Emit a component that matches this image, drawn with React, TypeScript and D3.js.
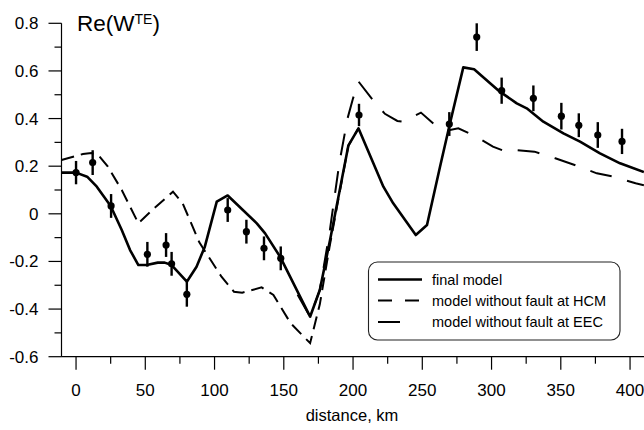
import React from 'react';
import * as d3 from 'd3';

// final model
const finalDist = [-10.5, 0, 8, 15, 25, 33, 39, 45, 51, 59, 64, 69, 80, 87, 93, 101.6, 109.5, 130.5, 136.5, 147.3, 169, 176, 183.4, 196.6, 203.9, 221.9, 229, 245.3, 253.4, 262.8, 270, 279.6, 287.4, 306, 318.2, 325.4, 337.4, 351.9, 363.9, 378.3, 392.8, 410];
const finalVal = [0.173, 0.173, 0.156, 0.114, 0.033, -0.068, -0.152, -0.215, -0.215, -0.205, -0.205, -0.215, -0.285, -0.222, -0.138, 0.051, 0.077, -0.04, -0.082, -0.18, -0.432, -0.32, -0.11, 0.286, 0.359, 0.114, 0.044, -0.089, -0.047, 0.198, 0.38, 0.615, 0.607, 0.513, 0.464, 0.443, 0.387, 0.338, 0.303, 0.254, 0.212, 0.175];

// model without fault at HCM (coincides with final model east of ~200 km)
const hcmDist = [-10.5, 5, 11, 16, 23, 33, 45, 55, 70, 77, 89, 105, 114, 120, 134, 142.5, 155, 169, 176, 183, 190, 196.6, 203.9];
const hcmVal = [0.226, 0.251, 0.255, 0.247, 0.198, 0.1, -0.04, 0.016, 0.093, 0.044, -0.12, -0.264, -0.327, -0.331, -0.309, -0.341, -0.46, -0.543, -0.38, -0.14, 0.08, 0.286, 0.359];

// model without fault at EEC (coincides with final model west of ~165 km)
const eecDist = [160, 169, 176, 183, 190, 196, 200, 204, 214, 223, 232, 236, 249, 260, 268, 276, 289, 301, 310, 317, 331, 346, 360, 376, 388, 404, 410];
const eecVal = [-0.34, -0.432, -0.32, -0.08, 0.21, 0.4, 0.485, 0.555, 0.48, 0.42, 0.39, 0.387, 0.425, 0.369, 0.35, 0.359, 0.324, 0.282, 0.262, 0.268, 0.261, 0.233, 0.205, 0.17, 0.156, 0.128, 0.12];

// observed data
const obsDist = [0, 12, 25.3, 51.5, 65, 69, 80, 109.5, 123, 135.7, 147.8, 204.3, 269.5, 289.3, 307.3, 330.2, 350.4, 363, 376.7, 394.2];
const obsVal = [0.173, 0.215, 0.033, -0.17, -0.131, -0.21, -0.338, 0.016, -0.075, -0.145, -0.187, 0.415, 0.377, 0.742, 0.517, 0.485, 0.41, 0.372, 0.331, 0.304];
const obsErr = [0.049, 0.052, 0.05, 0.052, 0.05, 0.05, 0.052, 0.05, 0.05, 0.05, 0.05, 0.047, 0.05, 0.058, 0.055, 0.054, 0.056, 0.05, 0.054, 0.053];

const xTicks = [0, 50, 100, 150, 200, 250, 300, 350, 400];
const xMinorTicks = [25, 75, 125, 175, 225, 275, 325, 375];
const yTicks = [0.8, 0.6, 0.4, 0.2, 0, -0.2, -0.4, -0.6];
const yTickLabels = ['0.8', '0.6', '0.4', '0.2', '0', '-0.2', '-0.4', '-0.6'];
const yMinorTicks = [0.7, 0.5, 0.3, 0.1, -0.1, -0.3, -0.5];
const legendLabels = ['final model', 'model without fault at HCM', 'model without fault at EEC'];

const FONT = '"Liberation Sans", Arial, Helvetica, sans-serif';

export default function App() {
  const x = d3.scaleLinear().domain([-10.5, 410]).range([61.5, 643.9]);
  const y = d3.scaleLinear().domain([-0.6, 0.8]).range([356.7, 23.3]);
  const line = d3
    .line<[number, number]>()
    .x((d) => x(d[0]))
    .y((d) => y(d[1]));
  const zip = (a: number[], b: number[]) => a.map((v, i) => [v, b[i]] as [number, number]);

  const x0 = x(-10.5);
  const yBase = y(-0.6);

  return (
    <svg
      width={644}
      height={430}
      viewBox="0 0 644 430"
      style={{ position: 'absolute', left: 0, top: 0, background: '#fff' }}
      fontFamily={FONT}
    >
      <rect width={644} height={430} fill="#fff" />
      {/* curves */}
      <path d={line(zip(hcmDist, hcmVal)) || ''} fill="none" stroke="#000" strokeWidth={2} strokeDasharray="13 7" />
      <path d={line(zip(eecDist, eecVal)) || ''} fill="none" stroke="#000" strokeWidth={2} strokeDasharray="22 16" />
      <path d={line(zip(finalDist, finalVal)) || ''} fill="none" stroke="#000" strokeWidth={2.6} strokeLinejoin="round" />

      {/* observations */}
      {obsDist.map((d, i) => (
        <g key={i}>
          <line x1={x(d)} x2={x(d)} y1={y(obsVal[i] + obsErr[i])} y2={y(obsVal[i] - obsErr[i])} stroke="#000" strokeWidth={2.4} />
          <circle cx={x(d)} cy={y(obsVal[i])} r={3.6} fill="#000" />
        </g>
      ))}

      {/* axes */}
      <line x1={x0} x2={x0} y1={y(0.8)} y2={yBase} stroke="#000" strokeWidth={1.2} />
      <line x1={x0} x2={644} y1={yBase} y2={yBase} stroke="#000" strokeWidth={1.2} />
      {yTicks.map((t, i) => (
        <g key={'yt' + i}>
          <line x1={x0 - 13} x2={x0} y1={y(t)} y2={y(t)} stroke="#000" strokeWidth={1.2} />
          <text x={38.5} y={y(t)} dy="0.35em" textAnchor="end" fontSize={17} fill="#000">
            {yTickLabels[i]}
          </text>
        </g>
      ))}
      {yMinorTicks.map((t, i) => (
        <line key={'ym' + i} x1={x0 - 7} x2={x0} y1={y(t)} y2={y(t)} stroke="#000" strokeWidth={1.2} />
      ))}
      {xTicks.map((t, i) => (
        <g key={'xt' + i}>
          <line x1={x(t)} x2={x(t)} y1={yBase} y2={yBase + 13} stroke="#000" strokeWidth={1.2} />
          <text x={x(t)} y={396} textAnchor="middle" fontSize={17} fill="#000">
            {t}
          </text>
        </g>
      ))}
      {xMinorTicks.map((t, i) => (
        <line key={'xm' + i} x1={x(t)} x2={x(t)} y1={yBase} y2={yBase + 7} stroke="#000" strokeWidth={1.2} />
      ))}
      <text x={352} y={421} textAnchor="middle" fontSize={16.5} fill="#000">
        distance, km
      </text>

      {/* title */}
      <text x={77} y={31} fontSize={22.5} fill="#000">
        Re(W
        <tspan fontSize={14} dy={-7.5}>TE</tspan>
        <tspan dy={7.5}>)</tspan>
      </text>

      {/* legend */}
      <rect x={368.5} y={262} width={251.5} height={78} rx={9} ry={9} fill="#fff" stroke="#222" strokeWidth={1.1} />
      <line x1={378} x2={422} y1={279.5} y2={279.5} stroke="#000" strokeWidth={2.6} />
      <line x1={378} x2={420} y1={300.5} y2={300.5} stroke="#000" strokeWidth={2} strokeDasharray="14 13" />
      <line x1={378} x2={400} y1={322} y2={322} stroke="#000" strokeWidth={2} />
      {legendLabels.map((l, i) => (
        <text key={'lg' + i} x={432} y={[279.5, 300.5, 322][i]} dy="0.35em" fontSize={14.5} fill="#000">
          {l}
        </text>
      ))}
    </svg>
  );
}
